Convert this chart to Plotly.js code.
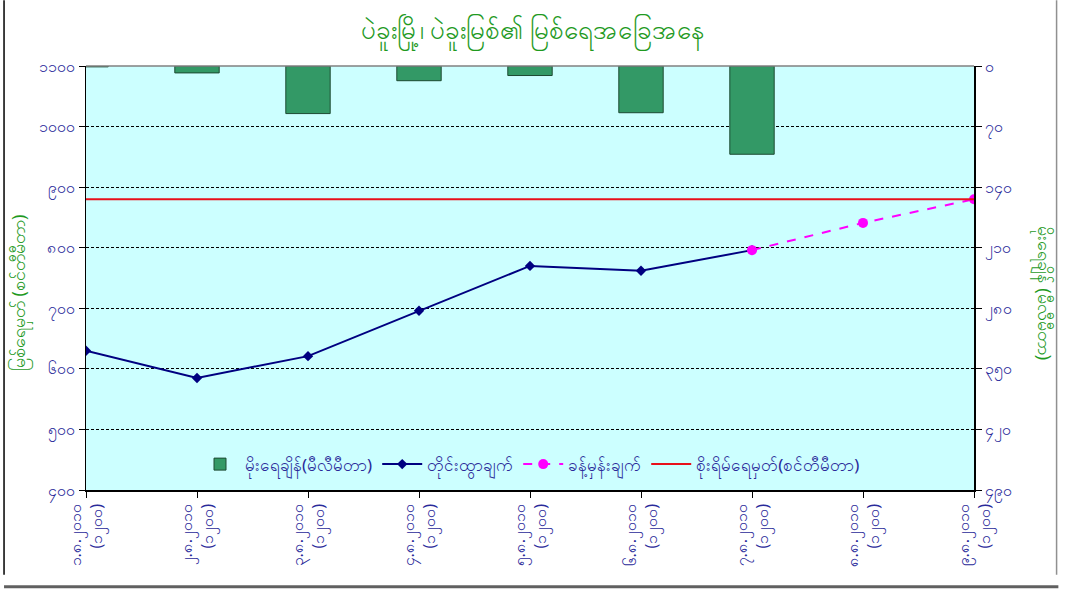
<!DOCTYPE html>
<html>
<head>
<meta charset="utf-8">
<script src="https://cdn.plot.ly/plotly-3.0.1.min.js"></script>
<style>
  html, body { margin: 0; padding: 0; background: #ffffff; }
  #chart { width: 1065px; height: 593px; }
</style>
</head>
<body>
<div id="chart"></div>
<script>
// ---- data ----
const categories = [0, 1, 2, 3, 4, 5, 6, 7, 8];
const dateLabels = [
  "၁.၈.၂၀၁၀<br>(၁၂၀၀)",
  "၂.၈.၂၀၁၀<br>(၁၂၀၀)",
  "၃.၈.၂၀၁၀<br>(၁၂၀၀)",
  "၄.၈.၂၀၁၀<br>(၁၂၀၀)",
  "၅.၈.၂၀၁၀<br>(၁၂၀၀)",
  "၆.၈.၂၀၁၀<br>(၁၂၀၀)",
  "၇.၈.၂၀၁၀<br>(၁၂၀၀)",
  "၈.၈.၂၀၁၀<br>(၁၂၀၀)",
  "၉.၈.၂၀၁၀<br>(၁၂၀၀)"
];
const rainfall = [1, 8, 55, 17, 11, 54, 102, null, null];          // mm (right axis)
const observed = [630, 585, 621, 696, 770, 762, 796, null, null];  // cm (left axis)
const forecast = [null, null, null, null, null, null, 796, 841, 880];
const dangerLevel = [880, 880, 880, 880, 880, 880, 880, 880, 880];

const leftTickVals = [400, 500, 600, 700, 800, 900, 1000, 1100];
const leftTickText = ["၄၀၀", "၅၀၀", "၆၀၀", "၇၀၀", "၈၀၀", "၉၀၀", "၁၀၀၀", "၁၁၀၀"];
const rightTickVals = [0, 70, 140, 210, 280, 350, 420, 490];
const rightTickText = ["၀", "၇၀", "၁၄၀", "၂၁၀", "၂၈၀", "၃၅၀", "၄၂၀", "၄၉၀"];

const titleText = "ပဲခူးမြို့၊ ပဲခူးမြစ်၏ မြစ်ရေအခြေအနေ";
const leftTitle = "မြစ်ရေမှတ် (စင်တီမီတာ)";
const rightTitle = "မိုးရေချိန် (မီလီမီတာ)";
const seriesNames = ["မိုးရေချိန်(မီလီမီတာ)", "တိုင်းထွာချက်", "ခန့်မှန်းချက်", "စိုးရိမ်ရေမှတ်(စင်တီမီတာ)"];

// ---- style ----
const FONT = "Noto Sans, DejaVu Sans, sans-serif";
const GREEN = "#1f9a1f";
const BLUE = "#2a2a9a";

const traces = [
  {
    type: "bar", name: seriesNames[0], x: categories, y: rainfall, yaxis: "y2",
    width: 0.4,
    marker: { color: "#339966", line: { color: "#1d4a32", width: 1 } },
    hoverinfo: "y"
  },
  {
    type: "scatter", mode: "lines+markers", name: seriesNames[1], x: categories, y: observed,
    line: { color: "#000080", width: 2 },
    marker: { symbol: "diamond", size: 8, color: "#000080" }
  },
  {
    type: "scatter", mode: "lines+markers", name: seriesNames[2], x: categories, y: forecast,
    line: { color: "#ff00ff", width: 2, dash: "dash" },
    marker: { symbol: "circle", size: 10, color: "#ff00ff" }
  },
  {
    type: "scatter", mode: "lines", name: seriesNames[3], x: categories, y: dangerLevel,
    line: { color: "#e8101a", width: 2 }
  }
];

const layout = {
  width: 1065, height: 593,
  margin: { l: 86, r: 91, t: 66, b: 103 },
  paper_bgcolor: "#ffffff",
  plot_bgcolor: "#ccffff",
  font: { family: FONT, size: 12, color: BLUE },
  showlegend: true,
  title: {
    text: titleText, x: 0.5, xanchor: "center", y: 0.95, yanchor: "middle",
    font: { family: FONT, size: 26, color: GREEN }
  },
  xaxis: {
    range: [0, 8],
    tickmode: "array", tickvals: categories, ticktext: dateLabels,
    tickangle: -90,
    ticks: "outside", ticklen: 6, tickcolor: "#000",
    showgrid: false, zeroline: false,
    showline: true, linecolor: "#000", linewidth: 1.5,
    tickfont: { family: FONT, size: 16, color: BLUE },
    fixedrange: true
  },
  yaxis: {
    range: [400, 1100],
    tickmode: "array", tickvals: leftTickVals, ticktext: leftTickText,
    ticks: "outside", ticklen: 6, tickcolor: "#000",
    showgrid: true, gridcolor: "#000", gridwidth: 1, griddash: "3px,2px",
    zeroline: false,
    showline: true, linecolor: "#000", linewidth: 1.5,
    tickfont: { family: FONT, size: 16, color: BLUE },
    fixedrange: true
  },
  yaxis2: {
    overlaying: "y", side: "right",
    range: [490, 0],
    tickmode: "array", tickvals: rightTickVals, ticktext: rightTickText,
    ticks: "outside", ticklen: 6, tickcolor: "#000",
    showgrid: false, zeroline: false,
    showline: true, linecolor: "#000", linewidth: 1.5,
    tickfont: { family: FONT, size: 16, color: BLUE },
    fixedrange: true
  },
  legend: {
    orientation: "h", x: 0.5, xanchor: "center", y: 0.06, yanchor: "middle",
    bgcolor: "rgba(0,0,0,0)",
    font: { family: FONT, size: 17, color: BLUE },
    itemwidth: 40,
    traceorder: "normal"
  },
  annotations: [
    {
      text: leftTitle, xref: "paper", yref: "paper", x: -0.074, y: 0.465,
      xanchor: "center", yanchor: "middle",
      showarrow: false, textangle: -90,
      font: { family: FONT, size: 18, color: GREEN }
    },
    {
      text: rightTitle, xref: "paper", yref: "paper", x: 1.078, y: 0.465,
      xanchor: "center", yanchor: "middle",
      showarrow: false, textangle: 90,
      font: { family: FONT, size: 18, color: GREEN }
    }
  ],
  shapes: [
    { type: "line", xref: "paper", yref: "paper", x0: 0, x1: 1, y0: 1, y1: 1,
      line: { color: "#808080", width: 1.5 } },
    { type: "line", xref: "paper", yref: "paper", x0: -0.0923, x1: -0.0923, y0: -0.2, y1: 1.155,
      line: { color: "#000", width: 1.5 } },
    { type: "line", xref: "paper", yref: "paper", x0: -0.0923, x1: 1.095, y0: -0.228, y1: -0.228,
      line: { color: "#606060", width: 3 } },
    { type: "line", xref: "paper", yref: "paper", x0: 1.093, x1: 1.093, y0: -0.2, y1: 1.155,
      line: { color: "#909090", width: 1.5 } }
  ]
};

Plotly.newPlot("chart", traces, layout, { displayModeBar: false, staticPlot: true });
</script>
</body>
</html>
